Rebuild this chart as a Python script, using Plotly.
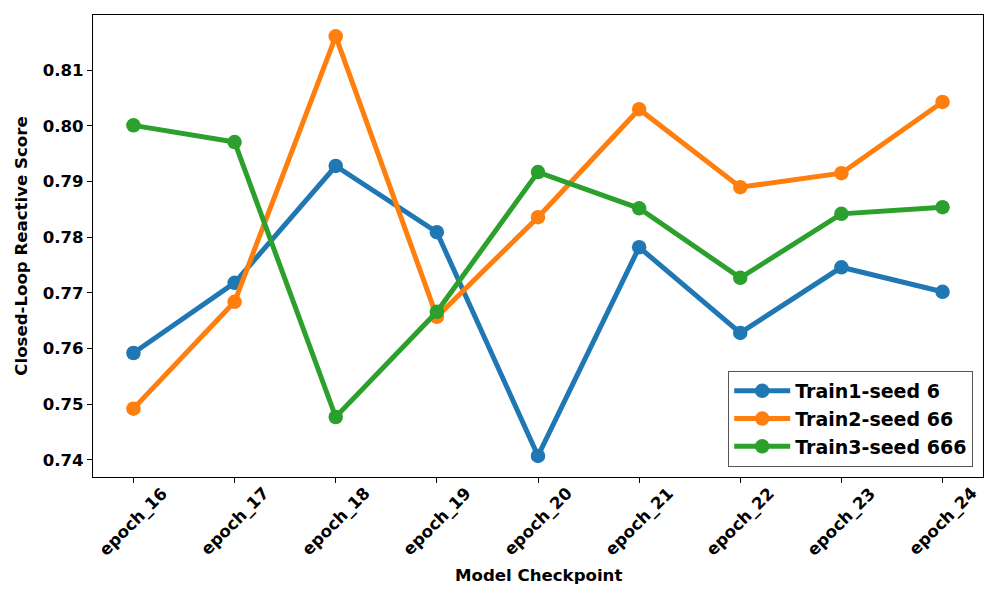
import plotly.graph_objects as go

checkpoints = ["epoch_16", "epoch_17", "epoch_18", "epoch_19", "epoch_20",
               "epoch_21", "epoch_22", "epoch_23", "epoch_24"]
train1_seed6 = [0.7592, 0.7718, 0.7928, 0.7809, 0.7407, 0.7782, 0.7628, 0.7746, 0.7702]
train2_seed66 = [0.7492, 0.7684, 0.8161, 0.7657, 0.7836, 0.8030, 0.7890, 0.7915, 0.8043]
train3_seed666 = [0.8001, 0.7971, 0.7477, 0.7666, 0.7917, 0.7852, 0.7727, 0.7842, 0.7854]
series_names = ["Train1-seed 6", "Train2-seed 66", "Train3-seed 666"]
colors = ["#1f77b4", "#ff7f0e", "#2ca02c"]
y_ticks = [0.74, 0.75, 0.76, 0.77, 0.78, 0.79, 0.80, 0.81]

FONT = "DejaVu Sans"
fs = 16.6

fig = go.Figure()
xs = list(range(len(checkpoints)))
for name, vals, c in zip(series_names, [train1_seed6, train2_seed66, train3_seed666], colors):
    fig.add_trace(go.Scatter(
        x=xs, y=vals, name=name, mode="lines+markers",
        line=dict(color=c, width=5),
        marker=dict(color=c, size=14.5),
    ))

for i, lab in enumerate(checkpoints):
    fig.add_annotation(
        x=i, xref="x", y=0, yref="paper", yshift=-44,
        text="<b>%s</b>" % lab, textangle=-45, showarrow=False,
        xanchor="center", yanchor="middle",
        font=dict(family=FONT, size=fs, color="black"),
    )

fig.add_annotation(
    x=0.5, xref="paper", y=0, yref="paper", yshift=-98,
    text="<b>Model Checkpoint</b>", showarrow=False,
    xanchor="center", yanchor="middle",
    font=dict(family=FONT, size=fs, color="black"),
)

fig.update_layout(
    width=1000, height=600,
    margin=dict(l=93, r=17, t=15, b=123),
    paper_bgcolor="white", plot_bgcolor="white",
    font=dict(family=FONT, size=fs, color="black"),
    showlegend=True,
    legend=dict(
        x=0.989, y=0.0216, xanchor="right", yanchor="bottom",
        bgcolor="rgba(255,255,255,0.8)", bordercolor="#555", borderwidth=1,
        font=dict(family=FONT, size=19, color="black", weight="bold"),
        itemwidth=56, tracegroupgap=0,
    ),
    xaxis=dict(
        range=[-0.4, 8.4], tickmode="array", tickvals=xs, showticklabels=False,
        ticks="outside", ticklen=5, tickcolor="black", tickwidth=1,
        showline=True, linecolor="black", linewidth=1, mirror=True,
        showgrid=False, zeroline=False,
    ),
    yaxis=dict(
        range=[0.73692, 0.81993], tickmode="array", tickvals=y_ticks,
        ticktext=["<b>%.2f</b>" % v for v in y_ticks],
        ticks="outside", ticklen=5, tickcolor="black", tickwidth=1,
        tickfont=dict(family=FONT, size=fs, color="black"),
        showline=True, linecolor="black", linewidth=1, mirror=True,
        showgrid=False, zeroline=False,
        title=dict(text="<b>Closed-Loop Reactive Score</b>", standoff=10,
                   font=dict(family=FONT, size=fs, color="black")),
    ),
)

fig.write_html("out.html", config={"displayModeBar": False},
               post_script="document.body.style.margin='0';")
